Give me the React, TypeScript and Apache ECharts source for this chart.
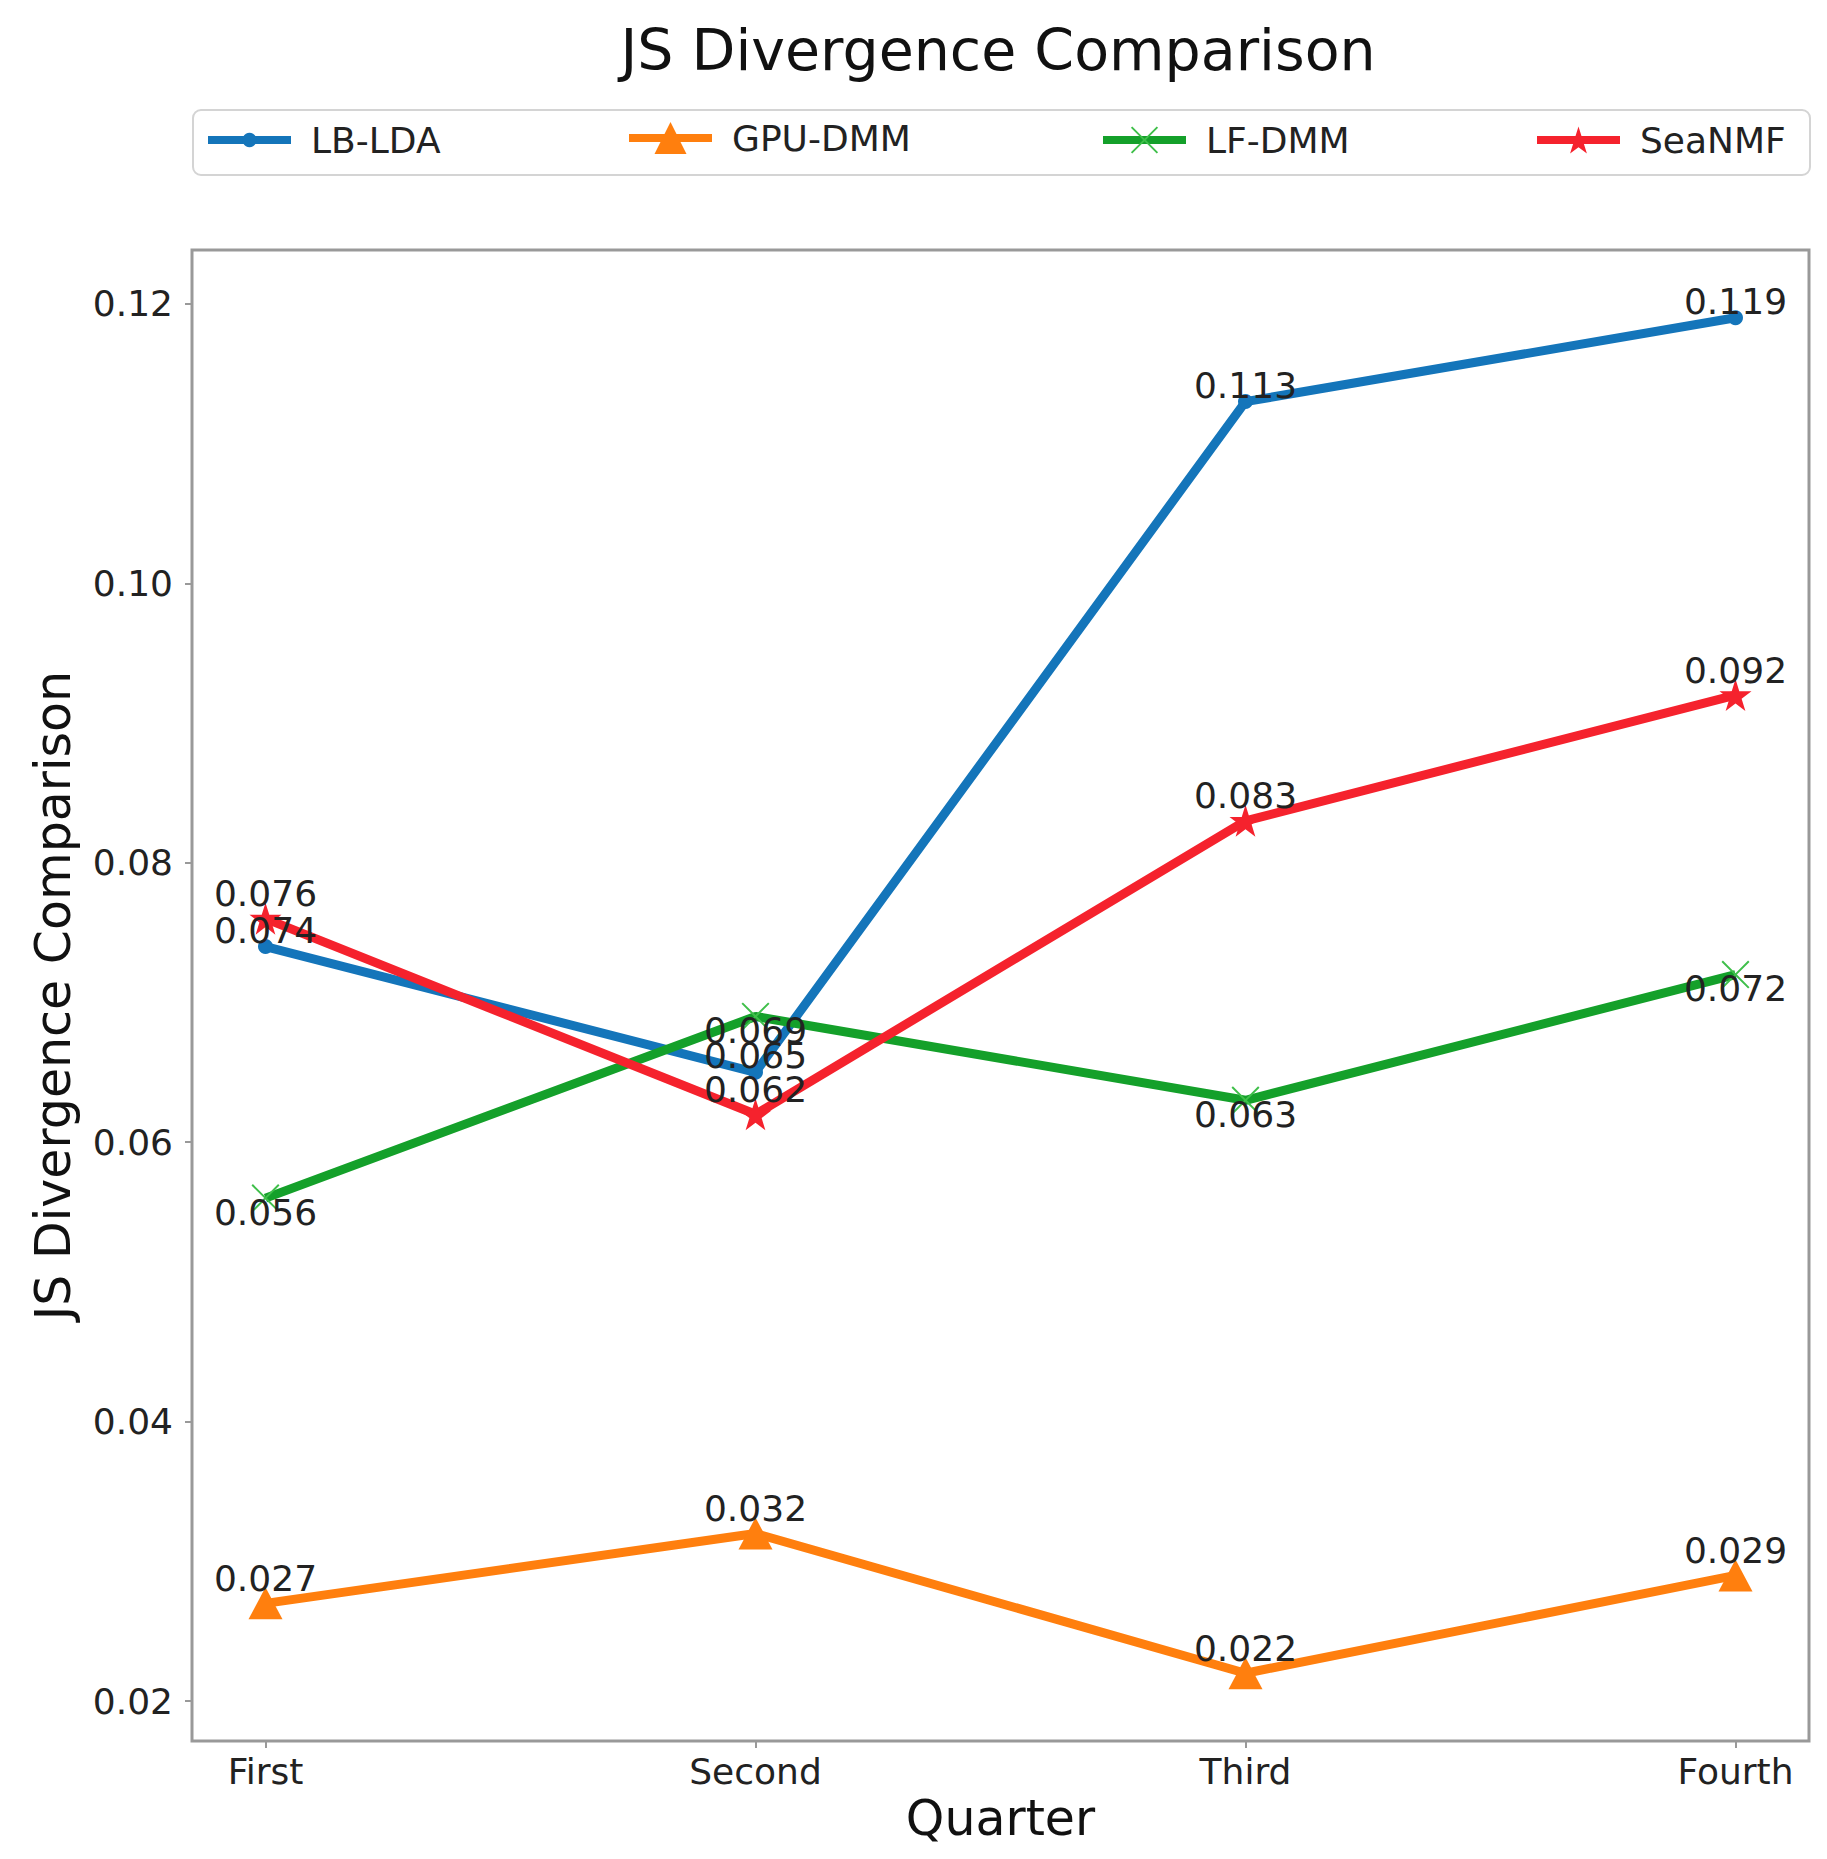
import { useEffect, useRef } from "react";
import * as echarts from "echarts";

const quarters = ["First", "Second", "Third", "Fourth"];
const lbLda = [0.074, 0.065, 0.113, 0.119];
const gpuDmm = [0.027, 0.032, 0.022, 0.029];
const lfDmm = [0.056, 0.069, 0.063, 0.072];
const seaNmf = [0.076, 0.062, 0.083, 0.092];
const yTicks = [0.02, 0.04, 0.06, 0.08, 0.1, 0.12];

const FONT = "DejaVu Sans";
const STAR =
  "path://M50,0 L61.23,34.55 L97.55,34.55 L68.16,55.9 L79.39,90.45 L50,69.1 L20.61,90.45 L31.84,55.9 L2.45,34.55 L38.77,34.55 Z";
const CROSS =
  "path://M0,5 L5,0 L50,45 L95,0 L100,5 L55,50 L100,95 L95,100 L50,55 L5,100 L0,95 L45,50 Z";

const toPoints = (vals: number[]) => vals.map((v, i) => [i, v]);

const App = () => {
  const chartRef = useRef<HTMLDivElement>(null);

  useEffect(() => {
    document.body.style.margin = "0";
    const chart = echarts.init(chartRef.current!, null, { renderer: "svg" });

    // value labels above the point
    const labelTop = {
      show: true,
      position: "top",
      distance: 0,
      offset: [0, 9],
      fontFamily: FONT,
      fontSize: 36,
      lineHeight: 36,
      color: "#222",
      formatter: (p: any) => p.value[1].toFixed(3),
    };
    // LF-DMM labels sit just under the point
    const labelBottom = { ...labelTop, position: "bottom", distance: 0, offset: [0, -18] };

    const legendBase = (name: string, left: number, itemHeight: number) => ({
      data: [name],
      left,
      top: 140 - Math.max(itemHeight, 36) / 2,
      padding: 0,
      itemWidth: 83,
      itemHeight,
      lineStyle: { width: 8 },
      textStyle: { fontFamily: FONT, fontSize: 36, lineHeight: 36, color: "#222", padding: [0, 0, 0, 15] },
    });

    const axisFont = { fontFamily: FONT, fontSize: 49, color: "#111" };

    chart.setOption({
      animation: false,
      backgroundColor: "#fff",
      title: {
        text: "JS Divergence Comparison",
        left: 993,
        top: 16,
        textAlign: "center",
        textStyle: { fontFamily: FONT, fontSize: 57, fontWeight: "normal", color: "#111" },
      },
      graphic: [
        {
          type: "rect",
          left: 192,
          top: 109,
          shape: { width: 1617, height: 65, r: 8 },
          style: { fill: "#fff", stroke: "#d4d4d4", lineWidth: 2 },
          z: -1,
        },
      ],
      legend: [
        legendBase("LB-LDA", 204, 18),
        legendBase("GPU-DMM", 625, 40),
        legendBase("LF-DMM", 1099, 34),
        legendBase("SeaNMF", 1533, 34),
      ],
      grid: {
        left: 192,
        right: 18,
        top: 250,
        bottom: 118,
        show: true,
        borderColor: "#999",
        borderWidth: 3,
        backgroundColor: "#fff",
      },
      xAxis: {
        type: "value",
        min: -0.15,
        max: 3.15,
        name: "Quarter",
        nameLocation: "middle",
        nameGap: 52,
        nameTextStyle: axisFont,
        axisLine: { show: false, onZero: false },
        splitLine: { show: false },
        axisTick: { show: true, length: 7, lineStyle: { color: "#999", width: 2 }, customValues: [0, 1, 2, 3] },
        axisLabel: {
          customValues: [0, 1, 2, 3],
          margin: 12,
          fontFamily: FONT,
          fontSize: 36,
          color: "#222",
          formatter: (v: number) => quarters[Math.round(v)] ?? "",
        },
      },
      yAxis: {
        type: "value",
        min: 0.01715,
        max: 0.12385,
        name: "JS Divergence Comparison",
        nameLocation: "middle",
        nameGap: 114,
        nameTextStyle: axisFont,
        axisLine: { show: false, onZero: false },
        splitLine: { show: false },
        axisTick: { show: true, length: 7, lineStyle: { color: "#999", width: 2 }, customValues: yTicks },
        axisLabel: {
          customValues: yTicks,
          margin: 19,
          fontFamily: FONT,
          fontSize: 36,
          color: "#222",
          formatter: (v: number) => v.toFixed(2),
        },
      },
      series: [
        {
          name: "LB-LDA",
          type: "line",
          data: toPoints(lbLda),
          symbol: "circle",
          symbolSize: 15,
          itemStyle: { color: "#1475ba" },
          lineStyle: { width: 9, color: "#1475ba" },
          label: labelTop,
        },
        {
          name: "GPU-DMM",
          type: "line",
          data: toPoints(gpuDmm),
          symbol: "triangle",
          symbolSize: [34, 32],
          itemStyle: { color: "#ff7f0e" },
          lineStyle: { width: 9, color: "#ff7f0e" },
          label: labelTop,
        },
        {
          name: "LF-DMM",
          type: "line",
          data: toPoints(lfDmm),
          symbol: CROSS,
          symbolSize: 28,
          itemStyle: { color: "#3fbf4a" },
          lineStyle: { width: 9, color: "#14a02a" },
          label: labelBottom,
        },
        {
          name: "SeaNMF",
          type: "line",
          data: toPoints(seaNmf),
          symbol: STAR,
          symbolSize: 32,
          itemStyle: { color: "#f5222d" },
          lineStyle: { width: 9, color: "#f5222d" },
          label: labelTop,
        },
      ],
    });

    return () => {
      chart.dispose();
    };
  }, []);

  return <div ref={chartRef} style={{ width: 1827, height: 1859 }} />;
};

export default App;
